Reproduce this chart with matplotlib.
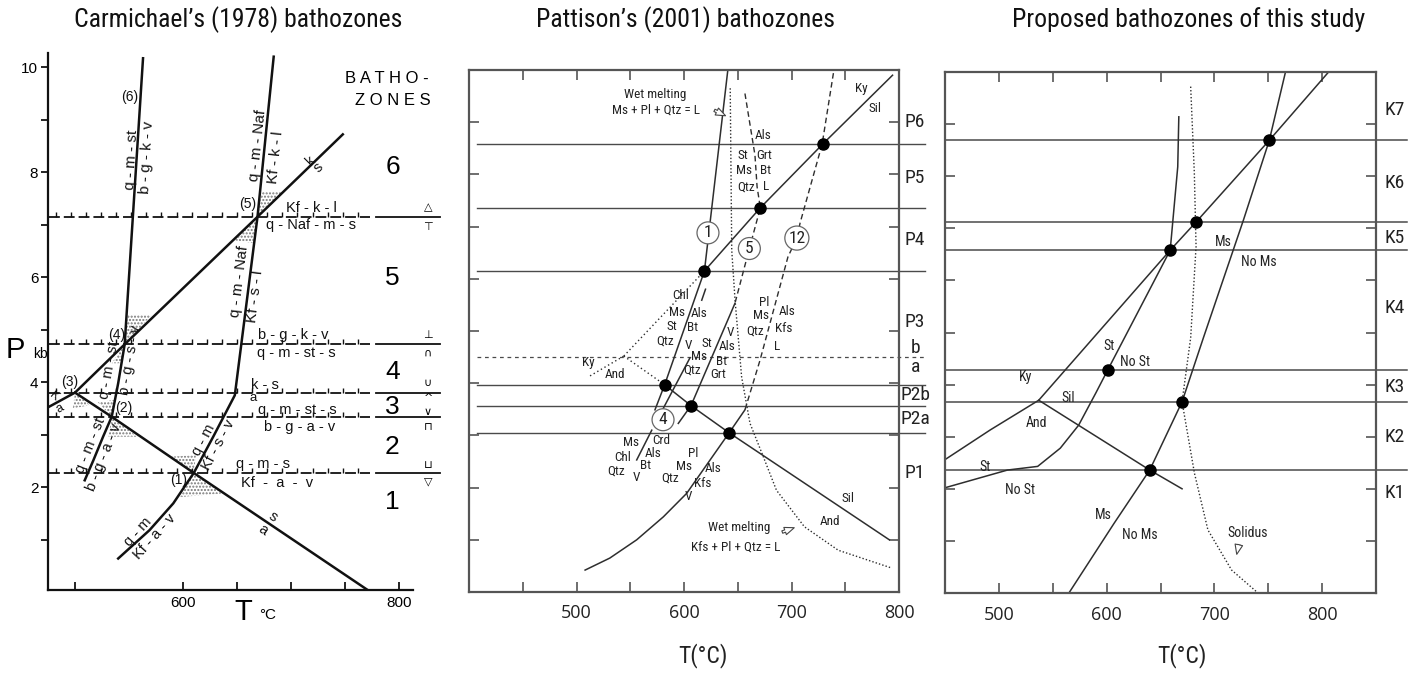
import numpy as np
import matplotlib
matplotlib.use('Agg')
import matplotlib.pyplot as plt
from matplotlib import font_manager as fm
from matplotlib.patches import Polygon

W, H = 1416, 674

def pick(fams):
    names = {f.name for f in fm.fontManager.ttflist}
    for f in fams:
        if f in names:
            return f
    return 'DejaVu Sans'

NARROW = pick(['Liberation Sans Narrow', 'Roboto Condensed', 'Open Sans Condensed', 'Noto Sans'])
HELV = pick(['Liberation Sans', 'DejaVu Sans'])
HUM = pick(['Open Sans', 'Noto Sans', 'DejaVu Sans'])

# ---------------- Panel 1 : Carmichael (1978) ----------------
c_qmst_T = [509, 517, 526, 534, 537, 540, 546, 563]
c_qmst_P = [2.13, 2.51, 2.96, 3.34, 3.66, 3.98, 4.72, 10.17]
c_kysil_T = [475, 500, 546, 669, 748]
c_kysil_P = [3.52, 3.80, 4.72, 7.15, 8.72]
c_andsil_T = [500, 534, 610, 771]
c_andsil_P = [3.80, 3.34, 2.27, 0.04]
c_ms_T = [540, 569, 591, 610, 628, 648, 669, 684]
c_ms_P = [0.64, 1.18, 1.69, 2.27, 2.96, 3.75, 7.15, 10.2]
c_bound_P = [7.15, 4.72, 3.80, 3.33, 2.27]
c_stipple = [
    [(669, 7.15), (673, 7.62), (693, 7.62)],
    [(669, 7.15), (648, 6.70), (665, 6.65)],
    [(546, 4.72), (549, 5.28), (571, 5.28)],
    [(546, 4.72), (534, 4.36), (543, 4.36)],
    [(500, 3.80), (514, 3.56), (498, 3.50)],
    [(534, 3.34), (521, 3.62), (537, 3.66)],
    [(534, 3.34), (558, 2.96), (531, 2.96)],
    [(610, 2.27), (589, 2.58), (612, 2.61)],
    [(610, 2.27), (637, 1.88), (597, 1.81)],
]
c_zone_names = ['6', '5', '4', '3', '2', '1']
c_zone_P = [8.1, 5.98, 4.19, 3.52, 2.76, 1.71]
c_sym = ['△', '⊤', '⊥', '∩', '∪', '^', '∨', '⊓', '⊔', '▽']
c_sym_P = [7.33, 6.95, 4.90, 4.57, 3.98, 3.70, 3.43, 3.14, 2.42, 2.10]
c_labels = [
    ('(6)', 551, 9.43, 0, 10), ('q - m - st', 552.0, 8.23, 87, 11),
    ('b - g - k - v', 567.0, 8.29, 87, 11), ('q - m - Naf', 669.0, 8.5, 84, 11),
    ('Kf - k - l', 685.5, 8.28, 84, 11), ('k', 718, 8.23, 45, 10.5), ('s', 725, 8.08, 45, 10.5),
    ('(5)', 660, 7.39, 0, 10), ('Kf - k - l', 719, 7.31, 0, 10.5),
    ('q - Naf - m - s', 719, 6.99, 0, 10.5), ('q - m - Naf', 652.5, 5.91, 83, 11),
    ('Kf - s - l', 667.0, 5.64, 83, 11), ('b - g - k - v', 702, 4.90, 0, 10.5),
    ('q - m - st - s', 705, 4.55, 0, 10.5), ('(4)', 539, 4.90, 0, 10),
    ('q - m - st', 531.5, 4.23, 80, 10.5), ('b - g - s - v', 551.5, 4.42, 80, 10.5),
    ('(3)', 495, 4.0, 0, 10), ('K', 481, 3.72, -40, 9), ('a', 486, 3.50, 30, 9),
    ('(2)', 545, 3.5, 0, 10), ('k - s', 676, 3.94, 0, 10.5), ('a', 665, 3.69, 0, 9.5),
    ('q - m - st - s', 706, 3.47, 0, 10.5), ('b - g - a - v', 708, 3.14, 0, 10.5),
    ('q - m - st', 514.5, 2.8, 68, 10.5), ('b - g - a - v', 526.5, 2.57, 68, 10.5),
    ('q - m', 619, 2.9, 62, 10.5), ('Kf - s - v', 633, 2.8, 62, 10.5),
    ('q - m - s', 674, 2.44, 0, 10.5), ('(1)', 596, 2.13, 0, 10),
    ('Kf  -  a  -  v', 687, 2.08, 0, 10.5), ('q - m', 558, 1.14, 48, 10.5),
    ('Kf - a - v', 574, 1.05, 48, 10.5), ('s', 683, 1.43, -34, 10.5), ('a', 674, 1.18, -34, 10.5),
]

# ---------------- Panel 2 : Pattison (2001) ----------------
p_kysil_dot_T = [544, 619]
p_kysil_dot_P = [4.52, 6.15]
p_kysil_T = [619, 671, 729, 794]
p_kysil_P = [6.15, 7.36, 8.58, 9.9]
p_andsil_dot_T = [544, 582]
p_andsil_dot_P = [4.52, 3.97]
p_andsil_T = [582, 606.5, 642, 791]
p_andsil_P = [3.97, 3.57, 3.05, 1.0]
p_kyand_T = [512.6, 544]
p_kyand_P = [4.14, 4.52]
p_r1_T = [640.6, 619, 582, 573]
p_r1_P = [9.97, 6.15, 3.97, 3.49]
p_r4_T = [620, 616.5, np.nan, 605.4, 580, np.nan, 570, 556]
p_r4_P = [5.8, 5.59, np.nan, 4.48, 3.49, np.nan, 3.1, 2.53]
p_r5_dash_T = [656.7, 666, 668, 671, 660.8, 647.4]
p_r5_dash_P = [9.55, 8.37, 7.76, 7.36, 6.58, 5.53]
p_r5_T = [647.4, 606.5, 594.7]
p_r5_P = [5.53, 3.57, 3.23]
p_r12_dash_T = [739, 728.5, 708, 705, 696.7, 670.7, 656.7]
p_r12_dash_P = [9.94, 8.58, 7.07, 6.78, 6.42, 4.44, 3.49]
p_r12_T = [656.7, 642, 602.5, 580.8, 556, 531, 508]
p_r12_P = [3.49, 3.05, 1.89, 1.44, 1.0, 0.65, 0.42]
p_wet_T = [643, 644.4, 647.5, 653.6, 661.4, 673.8, 686, 712, 743.5, 793]
p_wet_P = [9.65, 6.55, 5.59, 4.12, 3.23, 2.59, 1.95, 1.25, 0.8, 0.46]
p_dots_T = [729, 671, 619, 582, 606.5, 642]
p_dots_P = [8.58, 7.36, 6.15, 3.97, 3.57, 3.05]
p_bound_P = [8.58, 7.36, 6.15, 3.97, 3.57, 3.05]
p_dashed_P = 4.5
p_zone_names = ['P6', 'P5', 'P4', 'P3', 'b', 'a', 'P2b', 'P2a', 'P1']
p_zone_P = [9.0, 7.93, 6.74, 5.17, 4.67, 4.31, 3.77, 3.31, 2.28]
p_circles = [('1', 622.3, 6.88), ('5', 660.8, 6.58), ('12', 705, 6.78), ('4', 580.5, 3.3)]
p_labels = [
    ('Wet melting', 573, 9.54), ('Ms + Pl + Qtz = L', 574, 9.23),
    ('Ky', 765, 9.64), ('Sil', 778, 9.27),
    ('Als', 673.5, 8.74), ('St', 655, 8.37), ('Grt', 675, 8.37), ('Ms', 656, 8.07),
    ('Bt', 676, 8.07), ('Qtz', 657.7, 7.76), ('L', 676, 7.76),
    ('Chl', 596.5, 5.68), ('Ms', 593.5, 5.36), ('Als', 614, 5.34), ('St', 589, 5.08), ('Bt', 608, 5.06),
    ('Qtz', 582, 4.81), ('V', 603.7, 4.73), ('St', 621, 4.77), ('Ms', 614, 4.52), ('Qtz', 608, 4.25),
    ('V', 643, 4.98), ('Als', 640, 4.71), ('Bt', 635, 4.41), ('Grt', 631.6, 4.16),
    ('Pl', 675, 5.55), ('Ms', 671.5, 5.29), ('Als', 696, 5.38), ('Qtz', 666, 5.0),
    ('Kfs', 693, 5.04), ('L', 686.5, 4.71),
    ('Ky', 510.7, 4.39), ('And', 536, 4.16),
    ('Ms', 551, 2.86), ('Crd', 578.6, 2.90), ('Chl', 543, 2.57), ('Als', 571, 2.66),
    ('Qtz', 537.0, 2.32), ('Bt', 564.6, 2.43), ('V', 556, 2.2),
    ('Pl', 609, 2.66), ('Ms', 600, 2.41), ('Als', 627, 2.37), ('Qtz', 587, 2.18),
    ('Kfs', 617.7, 2.07), ('V', 603.7, 1.82),
    ('Sil', 752.6, 1.8), ('And', 736, 1.36),
    ('Wet melting', 651, 1.23), ('Kfs + Pl + Qtz = L', 648, 0.86),
]

# ---------------- Panel 3 : this study ----------------
k_kysil_T = [450, 492, 537, 659, 683, 751, 806]
k_kysil_P = [2.56, 3.13, 3.70, 6.58, 7.12, 8.69, 10.0]
k_andsil_T = [537, 640, 670]
k_andsil_P = [3.70, 2.36, 2.0]
k_st_T = [450, 508, 536, 557, 574, 590, 601, 659, 666, 667]
k_st_P = [2.02, 2.36, 2.43, 2.78, 3.22, 3.84, 4.28, 6.58, 8.18, 9.14]
k_ms_T = [565, 607, 640, 670, 690, 727, 751, 766]
k_ms_P = [0.0, 1.34, 2.36, 3.67, 4.91, 7.16, 8.69, 10.0]
k_sol_T = [678, 681.4, 683, 678, 670, 681.5, 694, 716, 740.5]
k_sol_P = [9.72, 8.06, 6.65, 4.9, 3.67, 2.3, 1.21, 0.44, 0.0]
k_dots_T = [751, 683, 659, 601, 670, 640]
k_dots_P = [8.69, 7.12, 6.58, 4.28, 3.67, 2.36]
k_bound_P = [8.69, 7.12, 6.58, 4.28, 3.67, 2.36]
k_zone_names = ['K7', 'K6', 'K5', 'K4', 'K3', 'K2', 'K1']
k_zone_P = [9.27, 7.87, 6.81, 5.47, 3.95, 2.99, 1.92]
k_labels = [('Ms', 708, 6.74), ('No Ms', 741, 6.35), ('St', 602, 4.74), ('No St', 626, 4.43),
            ('Ky', 525, 4.15), ('Sil', 564, 3.74), ('And', 535, 3.26), ('St', 487, 2.42),
            ('No St', 520, 1.98), ('Ms', 597, 1.50), ('No Ms', 631, 1.11), ('Solidus', 731, 1.15)]

titles = ["Carmichael’s (1978) bathozones", "Pattison’s (2001) bathozones",
          "Proposed bathozones of this study"]

LC = '#2e2e2e'
GC = '#4a4a4a'

fig = plt.figure(figsize=(W / 100, H / 100), dpi=100)
fig.patch.set_facecolor('white')

def fx(x):
    return x / W

def fy(y):
    return 1 - y / H

# ---- titles
for t, xc in zip(titles, [238, 686, 1189]):
    fig.text(fx(xc), fy(20), t, ha='center', va='center', fontsize=18.5, family=NARROW, color='#111')

# ================= Panel 1 =================
ax1 = fig.add_axes([fx(48), fy(590), (413 - 48) / W, (590 - 53) / H])
ax1.set_xlim(475, 813)
ax1.set_ylim(0.04, 10.27)
for s in ['top', 'right']:
    ax1.spines[s].set_visible(False)
for s in ['left', 'bottom']:
    ax1.spines[s].set_linewidth(1.6)
    ax1.spines[s].set_color('#111')
ax1.set_xticks([500, 600, 650, 700, 750, 800])
ax1.set_xticklabels(['', '600', '', '', '', '800'], fontsize=11, family=HELV)
ax1.tick_params(axis='x', direction='in', length=6, width=1.2, pad=4)
ax1.set_yticks([2, 4, 6, 8, 10])
ax1.set_yticklabels(['2', '4', '6', '8', '10'], fontsize=11, family=HELV)
ax1.set_yticks([1, 3, 5, 7, 9], minor=True)
ax1.tick_params(axis='y', which='both', direction='out', length=5, width=1.2, pad=2)

for poly in c_stipple:
    ax1.add_patch(Polygon(poly, closed=True, fill=False, hatch='.....', lw=0, ec='#777'))

for p in c_bound_P:
    ax1.plot([476, 773], [p, p], color='#111', lw=1.3, dashes=(6, 2.2))
    ax1.plot([779, 838], [p, p], color='#111', lw=1.3, clip_on=False)
    tt = np.arange(482, 770, 14.0)
    ax1.plot(tt, np.full(tt.size, p), ls='none', marker=2, ms=3.5, mew=1.0, color='#111')

ax1.plot(c_qmst_T, c_qmst_P, color='#111', lw=1.8)
ax1.plot(c_kysil_T, c_kysil_P, color='#111', lw=1.8)
ax1.plot(c_andsil_T, c_andsil_P, color='#111', lw=1.8)
ax1.plot(c_ms_T, c_ms_P, color='#111', lw=1.8)

for txt, t, p, rot, sz in c_labels:
    ax1.text(t, p, txt, rotation=rot, rotation_mode='anchor', ha='center', va='center',
             fontsize=sz, family=HELV, color='#111')

ax1.text(789, 9.79, 'B A T H O -', ha='center', va='center', fontsize=12, family=HELV, clip_on=False)
ax1.text(794, 9.37, 'Z O N E S', ha='center', va='center', fontsize=12, family=HELV, clip_on=False)
for n, p in zip(c_zone_names, c_zone_P):
    ax1.text(794, p, n, ha='center', va='center', fontsize=19, family=HELV, clip_on=False)
for s, p in zip(c_sym, c_sym_P):
    ax1.text(827, p, s, ha='center', va='center', fontsize=8, family='DejaVu Sans', clip_on=False)

fig.text(fx(15), fy(350), 'P', ha='center', va='center', fontsize=21, family=HELV)
fig.text(fx(40), fy(354), 'kb', ha='center', va='center', fontsize=10, family=HELV)
fig.text(fx(243), fy(612), 'T', ha='center', va='center', fontsize=21, family=HELV)
fig.text(fx(268), fy(615), '°C', ha='center', va='center', fontsize=11, family=HELV)

# ================= Panels 2 and 3 common =================
def frame(ax, xmin, xmax, ticks, labels):
    ax.set_xlim(xmin, xmax)
    ax.set_ylim(0, 10)
    for s in ax.spines.values():
        s.set_linewidth(1.6)
        s.set_color('#555')
    ax.set_xticks(ticks)
    ax.set_xticklabels(labels, fontsize=13, family=HUM, color='#222')
    ax.set_yticks(np.arange(1, 10))
    ax.set_yticklabels([])
    ax.tick_params(axis='both', direction='in', length=7, width=1.2, color='#555',
                   top=True, right=True, pad=9)

# ================= Panel 2 =================
ax2 = fig.add_axes([fx(469), fy(592), (899 - 469) / W, (592 - 70) / H])
frame(ax2, 400, 800, [450, 500, 550, 600, 650, 700, 750, 800],
      ['', '500', '', '600', '', '700', '', '800'])

for p in p_bound_P:
    ax2.plot([407, 824], [p, p], color=GC, lw=1.0, clip_on=False)
ax2.plot([407, 824], [p_dashed_P, p_dashed_P], color=GC, lw=0.9, dashes=(3, 3), clip_on=False)

ax2.plot(p_kysil_dot_T, p_kysil_dot_P, color=LC, lw=1.0, ls=(0, (1, 2)))
ax2.plot(p_andsil_dot_T, p_andsil_dot_P, color=LC, lw=1.0, ls=(0, (1, 2)))
ax2.plot(p_kyand_T, p_kyand_P, color=LC, lw=1.0, ls=(0, (1, 2)))
ax2.plot(p_kysil_T, p_kysil_P, color=LC, lw=1.1)
ax2.plot(p_andsil_T, p_andsil_P, color=LC, lw=1.1)
ax2.plot(p_r1_T, p_r1_P, color=LC, lw=1.1)
ax2.plot(p_r4_T, p_r4_P, color=LC, lw=1.1)
ax2.plot(p_r5_dash_T, p_r5_dash_P, color=LC, lw=1.0, dashes=(4, 2.5))
ax2.plot(p_r5_T, p_r5_P, color=LC, lw=1.1)
ax2.plot(p_r12_dash_T, p_r12_dash_P, color=LC, lw=1.0, dashes=(4, 2.5))
ax2.plot(p_r12_T, p_r12_P, color=LC, lw=1.1)
ax2.plot(p_wet_T, p_wet_P, color=LC, lw=1.0, ls=(0, (1, 1.5)))
ax2.plot(p_dots_T, p_dots_P, 'o', color='black', ms=8, zorder=5)

for txt, t, p in p_labels:
    ax2.text(t, p, txt, ha='center', va='center', fontsize=9.5, family=NARROW, color='#222')
for txt, t, p in p_circles:
    ax2.text(t, p, txt, ha='center', va='center', fontsize=12.5, family=NARROW, color='#222', zorder=6,
             bbox=dict(boxstyle='circle,pad=0.2', fc='white', ec='#666', lw=0.9))
for n, p in zip(p_zone_names, p_zone_P):
    ax2.text(815, p, n, ha='center', va='center', fontsize=14, family=NARROW, color='#222', clip_on=False)

arrow = dict(arrowstyle='simple,head_width=0.55,head_length=0.7,tail_width=0.18', fc='white', ec='#444', lw=0.8)
ax2.annotate('', xy=(641, 9.1), xytext=(626, 9.25), arrowprops=arrow)
ax2.annotate('', xy=(705, 1.25), xytext=(689, 1.13), arrowprops=arrow)

fig.text(fx(703), fy(656), 'T(°C)', ha='center', va='center', fontsize=17, family=NARROW, color='#222')

# ================= Panel 3 =================
ax3 = fig.add_axes([fx(945), fy(593), (1376 - 945) / W, (593 - 72) / H])
frame(ax3, 450, 850, [500, 550, 600, 650, 700, 750, 800],
      ['500', '', '600', '', '700', '', '800'])

for p in k_bound_P:
    ax3.plot([450, 879], [p, p], color=GC, lw=1.1, clip_on=False)
ax3.plot(k_kysil_T, k_kysil_P, color=LC, lw=1.1)
ax3.plot(k_andsil_T, k_andsil_P, color=LC, lw=1.1)
ax3.plot(k_st_T, k_st_P, color=LC, lw=1.1)
ax3.plot(k_ms_T, k_ms_P, color=LC, lw=1.1)
ax3.plot(k_sol_T, k_sol_P, color=LC, lw=1.0, ls=(0, (1, 1.5)))
ax3.plot(k_dots_T, k_dots_P, 'o', color='black', ms=8, zorder=5)

for txt, t, p in k_labels:
    ax3.text(t, p, txt, ha='center', va='center', fontsize=10, family=NARROW, color='#222')
for n, p in zip(k_zone_names, k_zone_P):
    ax3.text(867.5, p, n, ha='center', va='center', fontsize=14, family=NARROW, color='#222', clip_on=False)
ax3.annotate('', xy=(720.2, 0.69), xytext=(723.3, 0.98), arrowprops=arrow)

fig.text(fx(1182), fy(656), 'T(°C)', ha='center', va='center', fontsize=17, family=NARROW, color='#222')

fig.savefig('out.png', dpi=100, facecolor='white')
